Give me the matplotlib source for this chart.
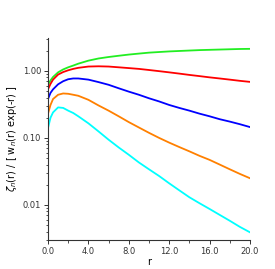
import matplotlib
matplotlib.use("Agg")
import matplotlib.pyplot as plt
import matplotlib.ticker as ticker

# r grid
r = [0, 0.25, 0.5, 1, 1.5, 2, 2.5, 3, 4, 5, 6, 7, 8, 9, 10,
     11, 12, 13, 14, 15, 16, 17, 18, 19, 20]

# curves, top to bottom
green = [0.62, 0.72, 0.81, 0.95, 1.05, 1.13, 1.20, 1.28, 1.42, 1.53, 1.61, 1.68, 1.75, 1.81, 1.87,
         1.91, 1.95, 1.98, 2.01, 2.04, 2.06, 2.08, 2.10, 2.12, 2.13]
red = [0.53, 0.64, 0.74, 0.88, 0.96, 1.02, 1.07, 1.11, 1.16, 1.17, 1.16, 1.13, 1.10, 1.07, 1.03,
       0.99, 0.95, 0.91, 0.87, 0.835, 0.80, 0.77, 0.74, 0.71, 0.685]
blue = [0.38, 0.47, 0.53, 0.63, 0.70, 0.75, 0.77, 0.77, 0.74, 0.68, 0.62, 0.55, 0.49, 0.44, 0.39,
        0.35, 0.31, 0.28, 0.255, 0.23, 0.21, 0.19, 0.175, 0.16, 0.145]
orange = [0.23, 0.31, 0.38, 0.44, 0.46, 0.455, 0.44, 0.425, 0.37, 0.305, 0.255, 0.21, 0.172, 0.143, 0.119,
          0.100, 0.085, 0.073, 0.063, 0.054, 0.047, 0.040, 0.034, 0.029, 0.025]
cyan = [0.14, 0.20, 0.24, 0.285, 0.28, 0.255, 0.235, 0.21, 0.165, 0.125, 0.094, 0.072, 0.056, 0.043, 0.034,
        0.027, 0.021, 0.0165, 0.013, 0.0106, 0.0087, 0.0071, 0.0058, 0.0047, 0.0039]

series = [(green, '#22ee22'), (red, '#ff0000'), (blue, '#0000ff'),
          (orange, '#ff8000'), (cyan, '#00ffff')]

xticks = [0, 4, 8, 12, 16, 20]
xtick_labels = ['0.0', '4.0', '8.0', '12.0', '16.0', '20.0']
yticks = [0.01, 0.1, 1.0]
ytick_labels = ['0.01', '0.10', '1.00']

fig = plt.figure(figsize=(2.75, 2.69), dpi=100)
ax = fig.add_axes([0.1745, 0.108, 0.7345, 0.751])

for vals, col in series:
    ax.plot(r, vals, color=col, lw=1.3, solid_joinstyle='round')

ax.set_yscale('log')
ax.set_xlim(0, 20)
ax.set_ylim(0.003, 3.1)

ax.set_xticks(xticks)
ax.set_xticklabels(xtick_labels)
ax.xaxis.set_minor_locator(ticker.MultipleLocator(2))
ax.set_yticks(yticks)
ax.set_yticklabels(ytick_labels)
ax.yaxis.set_minor_locator(ticker.LogLocator(base=10, subs=range(2, 10)))
ax.yaxis.set_minor_formatter(ticker.NullFormatter())

ax.tick_params(which='major', length=3, width=0.7, labelsize=6, colors='#333333', pad=2)
ax.tick_params(which='minor', length=1.8, width=0.6, colors='#333333')

for s in ['top', 'right']:
    ax.spines[s].set_visible(False)
for s in ['left', 'bottom']:
    ax.spines[s].set_linewidth(0.8)
    ax.spines[s].set_color('#333333')

ax.set_xlabel('r', fontsize=7, labelpad=1)
ax.set_ylabel(r'$\zeta_n$(r) / [ w$_n$(r) exp(-r) ]', fontsize=7, labelpad=3)

fig.savefig('out.png', dpi=100)
